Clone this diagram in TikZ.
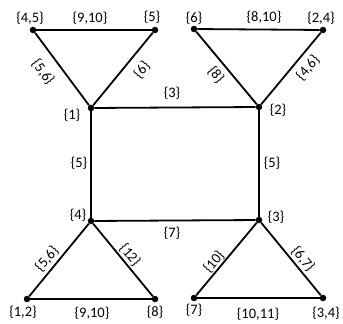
\documentclass[tikz,border=0pt]{standalone}
\usepackage{fontspec}
\setmainfont{Carlito}
\begin{document}
\begin{tikzpicture}[x=1pt,y=-1pt,
  v/.style={circle,fill=black,inner sep=0pt,minimum size=6.5pt},
  e/.style={line width=1.8pt},
  lab/.style={font=\fontsize{14.5}{17}\selectfont,inner sep=0pt}]
\useasboundingbox[fill=white] (0,0) rectangle (343,324);
% vertices
\node[v] (n1) at (91,108) {};
\node[v] (n2) at (259,107) {};
\node[v] (n3) at (259,220) {};
\node[v] (n4) at (91,221) {};
\node[v] (n45) at (33,30) {};
\node[v] (n5) at (155,30) {};
\node[v] (n6) at (194,29) {};
\node[v] (n24) at (323,30) {};
\node[v] (n12) at (27,299) {};
\node[v] (n8) at (155,299) {};
\node[v] (n7) at (194,298) {};
\node[v] (n34) at (323,298) {};
% edges
\draw[e] (n1) -- (n2);
\draw[e] (n2) -- (n3);
\draw[e] (n3) -- (n4);
\draw[e] (n4) -- (n1);
\draw[e] (n45) -- (n5);
\draw[e] (n45) -- (n1);
\draw[e] (n5) -- (n1);
\draw[e] (n6) -- (n24);
\draw[e] (n6) -- (n2);
\draw[e] (n24) -- (n2);
\draw[e] (n12) -- (n8);
\draw[e] (n12) -- (n4);
\draw[e] (n8) -- (n4);
\draw[e] (n7) -- (n34);
\draw[e] (n7) -- (n3);
\draw[e] (n34) -- (n3);
% vertex labels
\node[lab] (l45) at (30,18) {\{4,5\}};
\node[lab] (l5) at (152,17) {\{5\}};
\node[lab] (l1) at (72,115) {\{1\}};
\node[lab] (l6) at (194,18) {\{6\}};
\node[lab] (l24) at (321,18) {\{2,4\}};
\node[lab] (l2) at (278,110) {\{2\}};
\node[lab] (l4) at (78,215) {\{4\}};
\node[lab] (l12) at (23,312) {\{1,2\}};
\node[lab] (l8) at (155,312) {\{8\}};
\node[lab] (l3) at (276,217) {\{3\}};
\node[lab] (l7) at (194,310) {\{7\}};
\node[lab] (l34) at (326,313) {\{3,4\}};
% edge labels
\node[lab] (m1) at (90,18) {\{9,10\}};
\node[lab] (m2) at (264,17) {\{8,10\}};
\node[lab] (m3) at (172,93) {\{3\}};
\node[lab] (m4) at (79,163) {\{5\}};
\node[lab] (m5) at (272,163) {\{5\}};
\node[lab] (m6) at (172,233) {\{7\}};
\node[lab] (m7) at (92,313) {\{9,10\}};
\node[lab] (m8) at (258,314) {\{10,11\}};
\node[lab,rotate=-53] (s1) at (43,72) {\{5,6\}};
\node[lab,rotate=51] (s2) at (142,70) {\{6\}};
\node[lab,rotate=-50] (s3) at (216,75) {\{8\}};
\node[lab,rotate=50] (s4) at (308,68) {\{4,6\}};
\node[lab,rotate=50] (s5) at (47,259) {\{5,6\}};
\node[lab,rotate=-50] (s6) at (130,255) {\{12\}};
\node[lab,rotate=50] (s7) at (214,262) {\{10\}};
\node[lab,rotate=-50] (s8) at (303,259) {\{6,7\}};
\end{tikzpicture}
\end{document}
